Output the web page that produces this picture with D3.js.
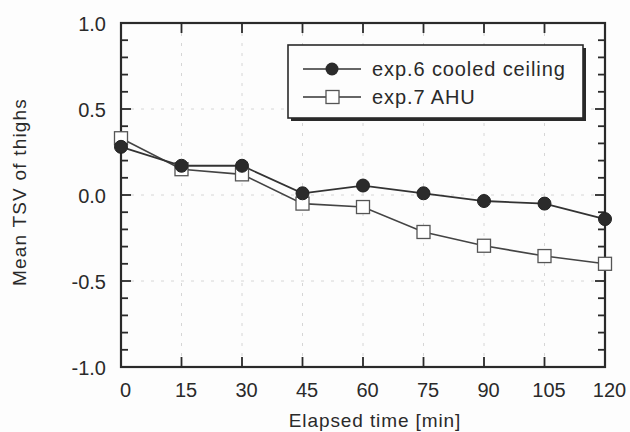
<!DOCTYPE html>
<html>
<head>
<meta charset="utf-8">
<script src="https://cdn.jsdelivr.net/npm/d3@7"></script>
<style>
  html, body { margin: 0; padding: 0; background: #fdfdfd; }
  svg { display: block; font-family: "Liberation Sans", Arial, sans-serif; }
</style>
</head>
<body>
<svg id="chart" width="630" height="432"></svg>
<script>
// Elapsed time (min) and mean thermal sensation votes of the thighs
const times = [0, 15, 30, 45, 60, 75, 90, 105, 120];
const cooledCeiling = [0.28, 0.17, 0.17, 0.01, 0.055, 0.01, -0.035, -0.05, -0.14];
const ahu = [0.33, 0.15, 0.12, -0.05, -0.07, -0.215, -0.295, -0.355, -0.40];
const seriesNames = ["exp.6 cooled ceiling", "exp.7 AHU"];
const xTickValues = [0, 15, 30, 45, 60, 75, 90, 105, 120];
const yTickValues = [-1.0, -0.5, 0.0, 0.5, 1.0];

const svg = d3.select("#chart");
const margin = { left: 121, right: 25, top: 23, bottom: 65 };
const W = 630, H = 432;
const ink = "#2a2a2a";
const font = "\"Liberation Sans\", Arial, sans-serif";

const x = d3.scaleLinear().domain([0, 120]).range([margin.left, W - margin.right]);
const y = d3.scaleLinear().domain([-1, 1]).range([H - margin.bottom, margin.top]);

const x0 = x.range()[0], x1 = x.range()[1];
const y0 = y.range()[0], y1 = y.range()[1];
const inner = xTickValues.slice(1, -1);

// faint dotted grid
const grid = svg.append("g");
grid.selectAll(".gh").data([-0.5, 0, 0.5]).join("line").attr("class", "gh")
  .attr("stroke", "#d6d6d6").attr("stroke-width", 1).attr("stroke-dasharray", "3,7")
  .attr("x1", x0).attr("x2", x1).attr("y1", d => y(d)).attr("y2", d => y(d));
grid.selectAll(".gv").data(inner).join("line").attr("class", "gv")
  .attr("stroke", "#d6d6d6").attr("stroke-width", 1).attr("stroke-dasharray", "3,7")
  .attr("y1", y1).attr("y2", y0).attr("x1", d => x(d)).attr("x2", d => x(d));

// tick labels via d3 axes (lines hidden), plain hyphen for negatives
const fmtY = v => d3.format(".1f")(v).replace("\u2212", "-");
const xAxis = svg.append("g").attr("transform", `translate(4,${y0})`)
  .call(d3.axisBottom(x).tickValues(xTickValues).tickSize(0).tickPadding(16).tickFormat(d3.format("d")));
const yAxis = svg.append("g").attr("transform", `translate(${x0},1)`)
  .call(d3.axisLeft(y).tickValues(yTickValues).tickSize(0).tickPadding(15).tickFormat(fmtY));
[xAxis, yAxis].forEach(a => {
  a.attr("font-family", font).attr("font-size", 20);
  a.select(".domain").remove();
  a.selectAll(".tick line").remove();
  a.selectAll("text").attr("fill", ink);
});

// axis titles
svg.append("text").attr("x", 375).attr("y", 427).attr("text-anchor", "middle")
  .attr("font-family", font).attr("font-size", 19).attr("letter-spacing", 0.9)
  .attr("fill", ink).text("Elapsed time [min]");
svg.append("text").attr("transform", "translate(26,192) rotate(-90)").attr("text-anchor", "middle")
  .attr("font-family", font).attr("font-size", 19).attr("letter-spacing", 1.2)
  .attr("fill", ink).text("Mean TSV of thighs");

// series lines
const line = d3.line().x((d, i) => x(times[i])).y(d => y(d));
svg.append("path").datum(ahu).attr("d", line).attr("fill", "none")
  .attr("stroke", "#444").attr("stroke-width", 1.6);
svg.append("path").datum(cooledCeiling).attr("d", line).attr("fill", "none")
  .attr("stroke", "#333").attr("stroke-width", 1.8);

// frame and inward ticks: y every 0.1 (longer at 0.5 steps), x every 15 min
const minorY = d3.range(-9, 10).map(i => i / 10);
const tickLen = d => (Math.abs(d * 2 - Math.round(d * 2)) < 1e-9 ? 10 : 7);
const tk = svg.append("g");
tk.append("rect").attr("x", x0).attr("y", y1).attr("width", x1 - x0).attr("height", y0 - y1)
  .attr("fill", "none").attr("stroke", ink).attr("stroke-width", 2.2);
tk.selectAll(".tl").data(minorY).join("line").attr("class", "tl")
  .attr("stroke", ink).attr("stroke-width", 1.8)
  .attr("x1", x0).attr("x2", d => x0 + tickLen(d)).attr("y1", d => y(d)).attr("y2", d => y(d));
tk.selectAll(".tr").data(minorY).join("line").attr("class", "tr")
  .attr("stroke", ink).attr("stroke-width", 1.8)
  .attr("x1", x1).attr("x2", d => x1 - tickLen(d)).attr("y1", d => y(d)).attr("y2", d => y(d));
tk.selectAll(".tb").data(inner).join("line").attr("class", "tb")
  .attr("stroke", ink).attr("stroke-width", 1.8)
  .attr("x1", d => x(d)).attr("x2", d => x(d)).attr("y1", y0).attr("y2", y0 - 10);
tk.selectAll(".tt").data(inner).join("line").attr("class", "tt")
  .attr("stroke", ink).attr("stroke-width", 1.8)
  .attr("x1", d => x(d)).attr("x2", d => x(d)).attr("y1", y1).attr("y2", y1 + 10);

// markers
const sq = 13;
svg.append("g").selectAll("rect").data(ahu).join("rect")
  .attr("x", (d, i) => x(times[i]) - sq / 2).attr("y", d => y(d) - sq / 2)
  .attr("width", sq).attr("height", sq)
  .attr("fill", "#fff").attr("stroke", "#555").attr("stroke-width", 1.3);
svg.append("g").selectAll("circle").data(cooledCeiling).join("circle")
  .attr("cx", (d, i) => x(times[i])).attr("cy", d => y(d)).attr("r", 6.5)
  .attr("fill", "#2b2b2b").attr("stroke", "#222").attr("stroke-width", 1);

// legend with drop shadow
const lg = svg.append("g");
const lx = 288, ly = 45, lw = 295, lh = 73;
lg.append("rect").attr("x", lx + 3).attr("y", ly + 3).attr("width", lw).attr("height", lh).attr("fill", ink);
lg.append("rect").attr("x", lx).attr("y", ly).attr("width", lw).attr("height", lh)
  .attr("fill", "#fdfdfd").attr("stroke", ink).attr("stroke-width", 1.6);
const rows = [{ name: seriesNames[0], cy: 69, type: "circle" }, { name: seriesNames[1], cy: 97, type: "square" }];
rows.forEach(r => {
  lg.append("line").attr("x1", 303).attr("x2", 361).attr("y1", r.cy).attr("y2", r.cy)
    .attr("stroke", "#333").attr("stroke-width", 1.6);
  if (r.type === "circle") {
    lg.append("circle").attr("cx", 332).attr("cy", r.cy).attr("r", 6.5).attr("fill", "#2b2b2b");
  } else {
    lg.append("rect").attr("x", 326).attr("y", r.cy - 6.5).attr("width", 13).attr("height", 13)
      .attr("fill", "#fff").attr("stroke", "#555").attr("stroke-width", 1.3);
  }
  lg.append("text").attr("x", 372).attr("y", r.cy + 7)
    .attr("font-family", font).attr("font-size", 20).attr("letter-spacing", 0.9)
    .attr("fill", ink).text(r.name);
});
</script>
</body>
</html>
